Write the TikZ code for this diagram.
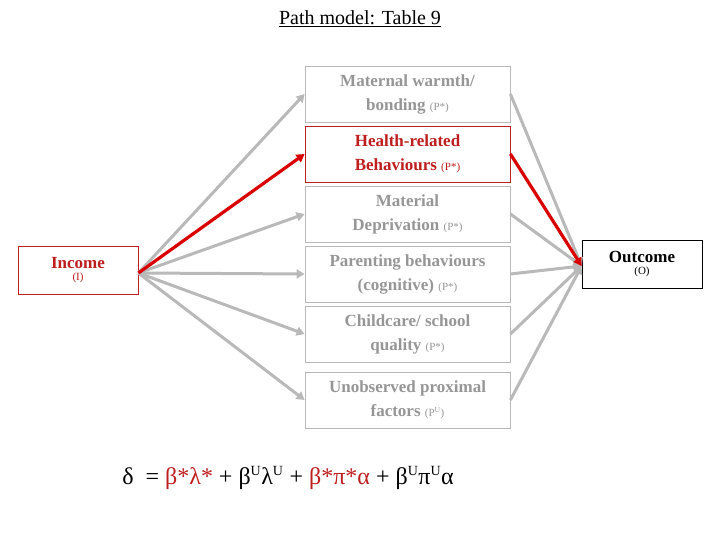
\documentclass[tikz,border=0pt]{standalone}
\usepackage{fontspec}
\setmainfont{Liberation Serif}
\usetikzlibrary{arrows.meta}
\definecolor{dred}{RGB}{190,30,30}
\definecolor{gtx}{RGB}{150,150,150}
\definecolor{gln}{RGB}{185,185,185}
\newcommand\smp[1]{{\mdseries\fontsize{11}{12}\selectfont #1}}
\newcommand\supU{\textsuperscript{\fontsize{14}{14}\selectfont U}}
\begin{document}
\begin{tikzpicture}[x=1pt,y=-1pt,
 mid/.style={draw=gln,line width=0.8pt,minimum width=205pt,minimum height=56pt,align=center,font=\bfseries\fontsize{17}{24}\selectfont,text=gtx,inner sep=1pt},
 garr/.style={draw=gln,line width=3pt,-{Triangle[length=8pt,width=9pt]}},
 rarr/.style={draw=red!85!black,line width=3.2pt,-{Triangle[length=8pt,width=9pt]}}]
\useasboundingbox (0,0) rectangle (720,540);
\node[font=\fontsize{20}{24}\selectfont] (t) at (360,19) {\underline{Path model: Table 9}};
\node[mid] (m1) at (407.5,94) {Maternal warmth/\\bonding \smp{(P*)}};
\node[mid,draw=dred,text=dred] (m2) at (407.5,154) {Health-related\\Behaviours \smp{(P*)}};
\node[mid] (m3) at (407.5,214) {Material\\Deprivation \smp{(P*)}};
\node[mid] (m4) at (407.5,274) {Parenting behaviours\\(cognitive) \smp{(P*)}};
\node[mid] (m5) at (407.5,334) {Childcare/ school\\quality \smp{(P*)}};
\node[mid] (m6) at (407.5,400) {Unobserved proximal\\factors \smp{(P\textsuperscript{U})}};
\node[draw=dred,line width=0.8pt,minimum width=120pt,minimum height=48pt,align=center,text=dred,inner sep=1pt] (inc) at (78,270) {{\bfseries\fontsize{17}{22}\selectfont Income}\\{\fontsize{11}{14}\selectfont (I)}};
\node[draw=black,line width=0.8pt,minimum width=120pt,minimum height=48pt,align=center,inner sep=1pt] (out) at (642,264) {{\bfseries\fontsize{17}{22}\selectfont Outcome}\\{\fontsize{11}{14}\selectfont (O)}};
\coordinate (o) at ([yshift=-2pt]out.west);
\coordinate (i) at ([yshift=-3pt]inc.east);
\foreach \m in {m1,m3,m4,m5,m6}{
 \draw[garr] (i) -- (\m.west);
 \draw[garr] (\m.east) -- (o);
}
\draw[rarr] (i) -- (m2.west);
\draw[rarr] (m2.east) -- (o);
\node[font=\fontsize{24}{28}\selectfont] (eq) at (288,478) {δ \ = \textcolor{dred}{β*λ*} + β\supU λ\supU{} + \textcolor{dred}{β*π*α} + β\supU π\supU α};
\end{tikzpicture}
\end{document}
